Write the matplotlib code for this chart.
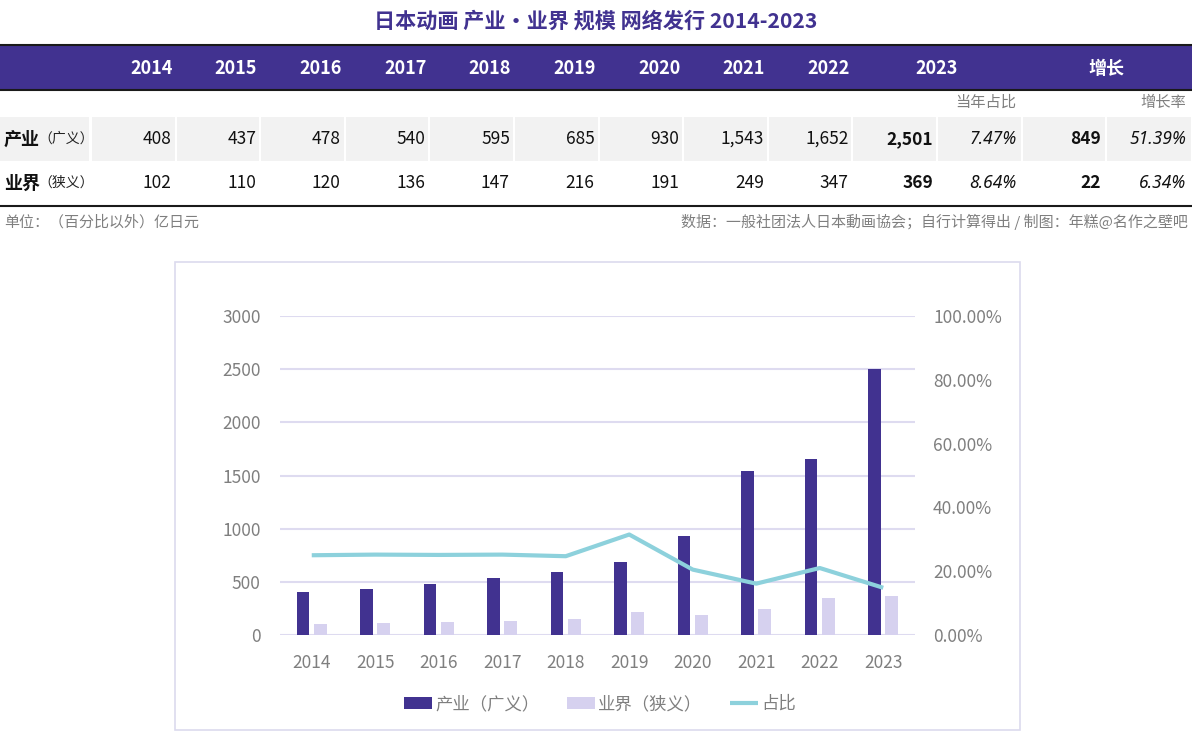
import matplotlib
matplotlib.use("Agg")
import matplotlib.pyplot as plt
from matplotlib.patches import Rectangle
import numpy as np

plt.rcParams['font.family'] = ['Noto Sans CJK SC', 'DejaVu Sans']

# ---------------- data ----------------
years = [2014, 2015, 2016, 2017, 2018, 2019, 2020, 2021, 2022, 2023]
industry = [408, 437, 478, 540, 595, 685, 930, 1543, 1652, 2501]   # 产业（广义）
market = [102, 110, 120, 136, 147, 216, 191, 249, 347, 369]         # 业界（狭义）
share = [0.250, 0.252, 0.251, 0.252, 0.247, 0.315, 0.205, 0.161, 0.210, 0.148]  # 占比
industry_labels = ["408", "437", "478", "540", "595", "685", "930", "1,543", "1,652", "2,501"]
market_labels = ["102", "110", "120", "136", "147", "216", "191", "249", "347", "369"]
share_2023 = ["7.47%", "8.64%"]
growth_abs = ["849", "22"]
growth_rate = ["51.39%", "6.34%"]
row_names = ["产业", "业界"]
row_sub = ["（广义）", "（狭义）"]
left_ticks = [0, 500, 1000, 1500, 2000, 2500, 3000]
right_ticks = [0, 0.2, 0.4, 0.6, 0.8, 1.0]

title = "日本动画 产业・业界 规模 网络发行 2014-2023"
note_left = "单位：（百分比以外）亿日元"
note_right = "数据：一般社团法人日本動画協会；自行计算得出 / 制图：年糕@名作之壁吧"

PURPLE = "#413290"
LIGHT = "#d6d1ef"
LINEC = "#8dd1dc"
GRID = "#dedbf0"
GRAYTXT = "#7f7f7f"
ITALIC_FAM = ['Noto Sans', 'Open Sans', 'DejaVu Sans']

W, H = 1192, 746
fig = plt.figure(figsize=(W / 100, H / 100), dpi=100)
fig.patch.set_facecolor("white")

# canvas axes in pixel coordinates
bg = fig.add_axes([0, 0, 1, 1])
bg.set_xlim(0, W)
bg.set_ylim(H, 0)
bg.axis("off")

bg.text(596, 21, title, ha="center", va="center", fontsize=15.2,
        fontweight="bold", color=PURPLE)

# header band
bg.add_patch(Rectangle((0, 45), W, 45, facecolor=PURPLE, edgecolor="none"))
bg.plot([0, W], [45, 45], color="#1a1a1a", lw=1.5)
bg.plot([0, W], [90, 90], color="#1a1a1a", lw=1.5)

col_edges = [91 + 84.6 * i for i in range(14)]
col_edges[-1] = W
for i, y in enumerate(years[:-1]):
    bg.text(col_edges[i + 1] - 3, 68, str(y), ha="right", va="center",
            fontsize=13, fontweight="bold", color="white")
bg.text((col_edges[9] + col_edges[11]) / 2, 68, str(years[-1]), ha="center",
        va="center", fontsize=13, fontweight="bold", color="white")
bg.text((col_edges[11] + col_edges[13]) / 2, 68, "增长", ha="center",
        va="center", fontsize=13, fontweight="bold", color="white")

# sub header
bg.text(col_edges[11] - 5, 102, "当年占比", ha="right", va="center",
        fontsize=11, color=GRAYTXT)
bg.text(col_edges[13] - 6, 102, "增长率", ha="right", va="center",
        fontsize=11, color=GRAYTXT)

# row backgrounds (first row gray cells)
cells = [(0, 89)] + [(col_edges[i] + 1, col_edges[i + 1] - 1) for i in range(13)]
for (a, b) in cells:
    bg.add_patch(Rectangle((a, 117), b - a, 44, facecolor="#f2f2f2", edgecolor="none"))

row_y = [139, 183]
rows_vals = [industry_labels, market_labels]
for r in range(2):
    y = row_y[r]
    bg.text(4, y, row_names[r], ha="left", va="center", fontsize=13,
            fontweight="bold", color="#111111")
    bg.text(38, y, row_sub[r], ha="left", va="center", fontsize=10, color="#222222")
    for i in range(10):
        bold = (i == 9)
        bg.text(col_edges[i + 1] - 4, y, rows_vals[r][i], ha="right", va="center",
                fontsize=12.5, fontweight="bold" if bold else "normal", color="#111111")
    bg.text(col_edges[11] - 5, y, share_2023[r], ha="right", va="center",
            fontsize=12.5, style="italic", family=ITALIC_FAM, color="#111111")
    bg.text(col_edges[12] - 5, y, growth_abs[r], ha="right", va="center",
            fontsize=12.5, fontweight="bold", color="#111111")
    bg.text(col_edges[13] - 6, y, growth_rate[r], ha="right", va="center",
            fontsize=12.5, style="italic", family=ITALIC_FAM, color="#111111")

bg.plot([0, W], [206, 206], color="#1a1a1a", lw=1.5)
bg.text(4, 222, note_left, ha="left", va="center", fontsize=10.8, color=GRAYTXT)
bg.text(1188, 222, note_right, ha="right", va="center", fontsize=10.8, color=GRAYTXT)

# chart frame
bg.add_patch(Rectangle((175, 262), 845, 468, facecolor="none", edgecolor="#dcdaee", lw=1.2))

# ---------------- chart ----------------
ax = fig.add_axes([280 / W, 1 - 635 / H, 635 / W, 319 / H])
x = np.arange(len(years))
bw = 0.2
ax.bar(x - 0.14, industry, width=bw, color=PURPLE, zorder=3, label="产业（广义）")
ax.bar(x + 0.135, market, width=bw, color=LIGHT, zorder=3, label="业界（狭义）")
ax.set_xlim(-0.5, 9.5)
ax.set_ylim(0, 3000)
ax.set_yticks(left_ticks)
ax.set_yticklabels([str(t) for t in left_ticks])
ax.set_xticks(x)
ax.set_xticklabels([str(y) for y in years])
for s in ax.spines.values():
    s.set_visible(False)
ax.tick_params(axis="both", length=0, colors=GRAYTXT, labelsize=12.5)
ax.tick_params(axis="y", pad=14)
ax.tick_params(axis="x", pad=14)
ax.grid(axis="y", color=GRID, lw=1.5, zorder=0)
ax.set_axisbelow(True)

ax2 = ax.twinx()
ax2.plot(x, share, color=LINEC, lw=3, zorder=4, label="占比", solid_capstyle="butt")
ax2.set_ylim(0, 1)
ax2.set_yticks(right_ticks)
ax2.set_yticklabels([f"{t*100:.2f}%" for t in right_ticks])
for s in ax2.spines.values():
    s.set_visible(False)
ax2.tick_params(axis="y", length=0, colors=GRAYTXT, labelsize=12.5, pad=13)

h1, l1 = ax.get_legend_handles_labels()
h2, l2 = ax2.get_legend_handles_labels()
leg = fig.legend(h1 + h2, l1 + l2, loc="center", bbox_to_anchor=(600 / W, 1 - 704 / H),
                 ncol=3, frameon=False, fontsize=12.5, handlelength=1.6,
                 handletextpad=0.2, columnspacing=1.6)
for t in leg.get_texts():
    t.set_color(GRAYTXT)

fig.savefig("out.png", dpi=100, facecolor="white")
